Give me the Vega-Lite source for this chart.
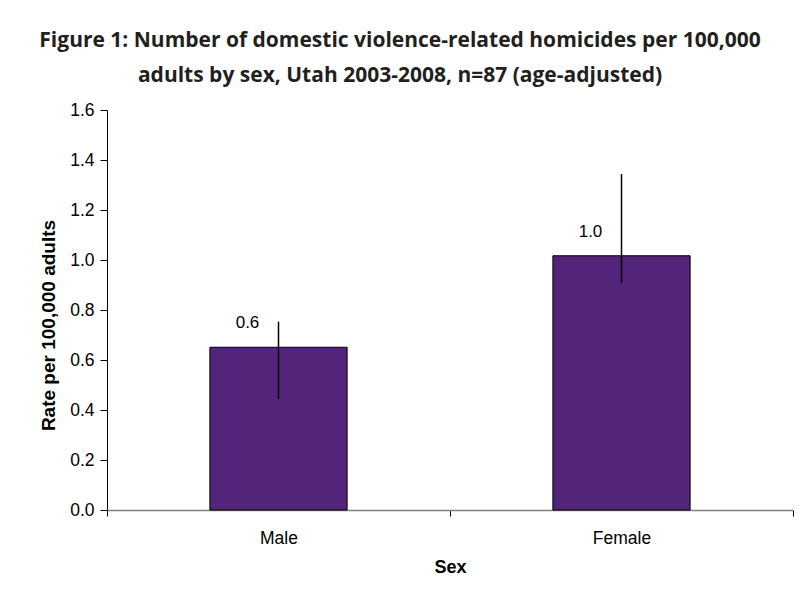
{
  "$schema": "https://vega.github.io/schema/vega-lite/v6.json",
  "autosize": "none",
  "width": 686,
  "height": 400,
  "padding": {"left": 107, "top": 110, "right": 8, "bottom": 94},
  "background": "white",
  "title": {
    "text": ["Figure 1: Number of domestic violence-related homicides per 100,000", "adults by sex, Utah 2003-2008, n=87 (age-adjusted)"],
    "font": "Open Sans",
    "fontWeight": "bold",
    "fontSize": 21,
    "lineHeight": 35,
    "color": "#231f20",
    "anchor": "middle",
    "dx": -50,
    "offset": 15
  },
  "data": {
    "values": [
      {"sex": "Male", "rate": 0.651, "lo": 0.444, "hi": 0.753, "label": "0.6"},
      {"sex": "Female", "rate": 1.017, "lo": 0.908, "hi": 1.344, "label": "1.0"}
    ]
  },
  "encoding": {
    "x": {
      "field": "sex",
      "type": "nominal",
      "sort": ["Male", "Female"],
      "scale": {"paddingInner": 0, "paddingOuter": 0},
      "axis": {
        "title": "Sex",
        "labelAngle": 0,
        "labelFont": "Liberation Sans",
        "labelFontSize": 17.5,
        "labelColor": "#000000",
        "labelPadding": 13,
        "titleFont": "Liberation Sans",
        "titleFontSize": 18,
        "titleFontWeight": "bold",
        "titleColor": "#000000",
        "titlePadding": 12,
        "tickBand": "extent",
        "tickExtra": true,
        "tickSize": 6,
        "tickColor": "#000000",
        "domainColor": "#808080",
        "domainWidth": 1.5
      }
    }
  },
  "layer": [
    {
      "mark": {"type": "bar", "width": {"band": 0.4}, "fill": "#52247a", "stroke": "#000000", "strokeWidth": 1},
      "encoding": {
        "y": {
          "field": "rate",
          "type": "quantitative",
          "scale": {"domain": [0, 1.6], "nice": false},
          "axis": {
            "title": "Rate per 100,000 adults",
            "values": [0, 0.2, 0.4, 0.6, 0.8, 1.0, 1.2, 1.4, 1.6],
            "format": ".1f",
            "grid": false,
            "labelFont": "Liberation Sans",
            "labelFontSize": 17.5,
            "labelColor": "#000000",
            "labelPadding": 6,
            "tickSize": 7,
            "tickColor": "#000000",
            "domainColor": "#000000",
            "titleFont": "Liberation Sans",
            "titleFontSize": 19,
            "titleFontWeight": "bold",
            "titleColor": "#000000",
            "titlePadding": 11,
            "titleY": 215
          }
        }
      }
    },
    {
      "mark": {"type": "rule", "color": "#000000", "strokeWidth": 1.5},
      "encoding": {
        "y": {"field": "lo", "type": "quantitative"},
        "y2": {"field": "hi"}
      }
    },
    {
      "mark": {"type": "text", "font": "Liberation Sans", "fontSize": 17, "color": "#000000", "dx": -31, "dy": -24, "baseline": "middle"},
      "encoding": {
        "y": {"field": "rate", "type": "quantitative"},
        "text": {"field": "label"}
      }
    }
  ],
  "config": {"view": {"stroke": null}}
}
